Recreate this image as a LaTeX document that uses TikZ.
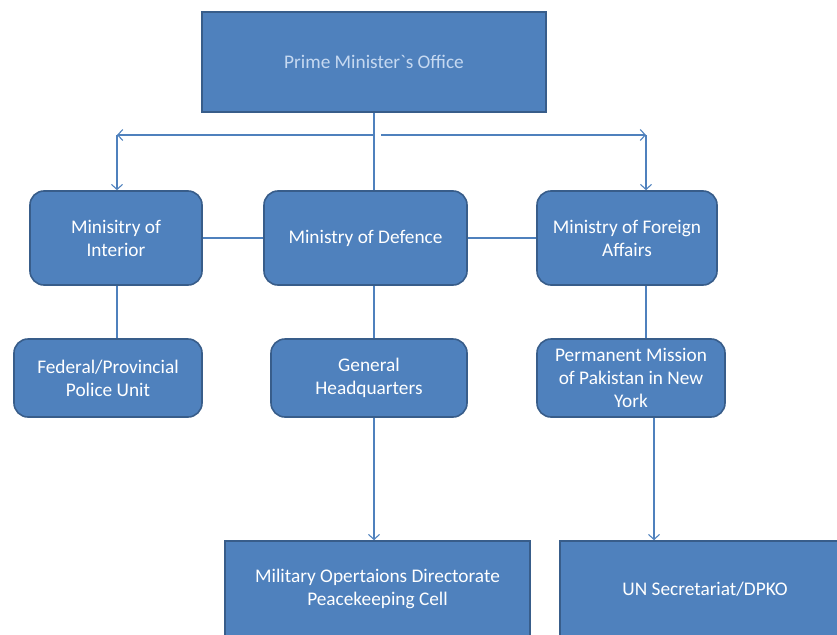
\documentclass[tikz,border=0pt]{standalone}
\usepackage{fontspec}
\setmainfont{Carlito}
\newfontfamily\plaincarlito{Carlito}
\usetikzlibrary{arrows.meta}
\definecolor{boxfill}{HTML}{4F81BD}
\definecolor{boxline}{HTML}{385D8A}
\definecolor{conn}{HTML}{4F81BD}
\definecolor{pmtext}{HTML}{C6D9F1}
\begin{document}
\begin{tikzpicture}[x=1pt,y=-1pt,
  box/.style={draw=boxline, fill=boxfill, line width=1.6pt, text=white, align=center,
    inner sep=0pt, font=\fontsize{19.3}{23}\selectfont},
  rbox/.style={box, rounded corners=14pt},
  conn/.style={draw=conn, line width=1.1pt},
  arr/.style={conn, -{Straight Barb[length=5pt,width=11pt]}}]
\useasboundingbox (0,0) rectangle (837,634);
\node[box, text=pmtext, minimum width=344pt, minimum height=100pt] (pm) at (374,62) {\plaincarlito Prime Minister`s Office};
\node[rbox, minimum width=172pt, minimum height=94pt] (moi) at (116,238) {Minisitry of\\Interior};
\node[rbox, minimum width=203pt, minimum height=94pt] (mod) at (365.5,238) {Ministry of Defence};
\node[rbox, minimum width=180pt, minimum height=94pt] (mfa) at (627,238) {Ministry of Foreign\\Affairs};
\node[rbox, minimum width=188pt, minimum height=78pt] (pol) at (108,378) {Federal/Provincial\\Police Unit};
\node[rbox, minimum width=196pt, minimum height=78pt] (ghq) at (369,378) {General\\Headquarters};
\node[rbox, minimum width=188pt, minimum height=78pt] (pmny) at (631,378) {Permanent Mission\\of Pakistan in New\\York};
\node[box, minimum width=305pt, minimum height=96pt] (cell) at (377.5,589) {Military Opertaions Directorate\\Peacekeeping Cell};
\node[box, minimum width=290pt, minimum height=96pt] (un) at (705,589) {UN Secretariat/DPKO};
\coordinate (jc) at (374,135);
\coordinate (jc2) at (381,135);
\coordinate (jl) at (117,135);
\coordinate (jr) at (646,135);
\coordinate (ux) at (654,416);
\draw[conn] (pm.south) -- (pm.south |- mod.north);
\draw[arr] (jc) -- (jl);
\draw[arr] (jl) -- (jl |- moi.north);
\draw[arr] (jc2) -- (jr);
\draw[arr] (jr) -- (jr |- mfa.north);
\draw[conn] (moi.east) -- (mod.west);
\draw[conn] (mod.east) -- (mfa.west);
\draw[conn] (jl |- moi.south) -- (jl |- pol.north);
\draw[conn] (jc |- mod.south) -- (jc |- ghq.north);
\draw[conn] (jr |- mfa.south) -- (jr |- pmny.north);
\draw[arr] (jc |- ghq.south) -- (jc |- cell.north);
\draw[arr] (ux |- pmny.south) -- (ux |- un.north);
\end{tikzpicture}
\end{document}
